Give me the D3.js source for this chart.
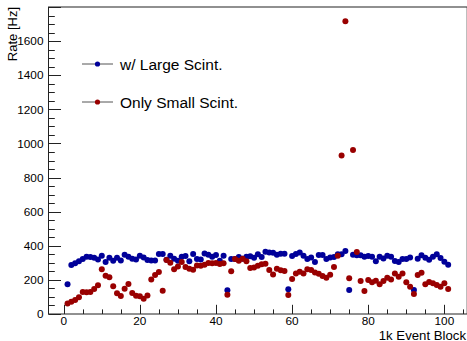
<!DOCTYPE html>
<html>
<head>
<meta charset="utf-8">
<script src="https://cdn.jsdelivr.net/npm/d3@7"></script>
<style>
  html, body { margin: 0; padding: 0; background: #fff; }
  svg { display: block; font-family: "Liberation Sans", Arial, Helvetica, sans-serif; }
</style>
</head>
<body>
<svg id="chart" width="467" height="341"></svg>
<script>
// Rate per 1k-event block (block index = position + 1)
const largeScint = [
  174, 287, 297, 309, 322, 336, 334, 330, 320, 341,
  305, 330, 312, 330, 314, 348, 336, 324, 320, 342,
  332, 316, 314, 314, 352, 352, 318, 342, 324, 312,
  336, 340, 309, 352, 322, 320, 355, 348, 336, 346,
  312, 342, 139, 322, 322, 334, 324, 336, 338, 330,
  350, 334, 365, 361, 359, 348, 353, 353, 145, 340,
  352, 361, 342, 322, 332, 305, 346, 346, 322, 332,
  334, 350, 350, 369, 141, 348, 344, 344, 336, 340,
  336, 309, 336, 326, 342, 336, 311, 305, 322, 322,
  332, 141, 324, 344, 330, 318, 336, 350, 328, 307,
  289
];
const smallScint = [
  62, 72, 82, 98, 129, 127, 129, 146, 168, 262,
  225, 215, 162, 121, 105, 148, 176, 123, 107, 104,
  90, 109, 203, 228, 246, 137, 316, 300, 262, 279,
  305, 275, 266, 260, 285, 283, 289, 299, 297, 299,
  293, 297, 113, 250, 322, 312, 324, 309, 270, 273,
  283, 291, 295, 258, 232, 266, 256, 252, 111, 205,
  238, 248, 238, 262, 258, 244, 236, 223, 213, 230,
  275, 342, 930, 1717, 209, 961, 363, 193, 135, 200,
  186, 195, 174, 193, 213, 203, 238, 219, 238, 186,
  160, 117, 228, 242, 174, 188, 180, 170, 160, 180,
  146
];
const seriesNames = ["w/ Large Scint.", "Only Small Scint."];
const seriesColors = ["#000099", "#990000"];
const xTicks = [0, 20, 40, 60, 80, 100];
const yTicks = [0, 200, 400, 600, 800, 1000, 1200, 1400, 1600];
const xTitle = "1k Event Block";
const yTitle = "Rate [Hz]";

const svg = d3.select("#chart");
const W = 467, H = 341;
const frame = { left: 48.5, right: 467.2, top: 7, bottom: 314 };

svg.append("rect").attr("width", W).attr("height", H).attr("fill", "#fff");

const x = d3.scaleLinear().domain([-4, 106]).range([frame.left, frame.right]);
const y = d3.scaleLinear().domain([0, 1800]).range([frame.bottom, frame.top]);

const axisColor = "#222";

// frame
svg.append("rect")
  .attr("x", frame.left).attr("y", frame.top)
  .attr("width", frame.right - frame.left).attr("height", frame.bottom - frame.top)
  .attr("fill", "none").attr("stroke", axisColor).attr("stroke-width", 1);

// y ticks (drawn inward), minor every 50
const yMinor = d3.range(0, 1801, 50);
const yg = svg.append("g");
yg.selectAll("line").data(yMinor).join("line")
  .attr("x1", frame.left)
  .attr("x2", d => frame.left + (d % 200 === 0 ? 12.5 : 6.3))
  .attr("y1", d => Math.round(y(d)) + 0.5)
  .attr("y2", d => Math.round(y(d)) + 0.5)
  .attr("stroke", axisColor).attr("stroke-width", 1);
yg.selectAll("text").data(yTicks).join("text")
  .attr("x", frame.left - 5)
  .attr("y", d => y(d) + 4.2)
  .attr("text-anchor", "end")
  .attr("font-size", 11.8)
  .attr("fill", "#000")
  .text(d => d);

// x ticks (drawn inward), minor every 5
const xMinor = d3.range(0, 106, 5);
const xg = svg.append("g");
xg.selectAll("line").data(xMinor).join("line")
  .attr("x1", d => Math.round(x(d)) + 0.5)
  .attr("x2", d => Math.round(x(d)) + 0.5)
  .attr("y1", frame.bottom)
  .attr("y2", d => frame.bottom - (d % 20 === 0 ? 9.2 : 4.6))
  .attr("stroke", axisColor).attr("stroke-width", 1);
xg.selectAll("text").data(xTicks).join("text")
  .attr("x", d => x(d))
  .attr("y", 325)
  .attr("text-anchor", "middle")
  .attr("font-size", 11.8)
  .attr("fill", "#000")
  .text(d => d);

// axis titles
svg.append("text")
  .attr("x", 466).attr("y", 339.5)
  .attr("text-anchor", "end")
  .attr("font-size", 13.2)
  .text(xTitle);
svg.append("text")
  .attr("transform", "translate(17,7) rotate(-90)")
  .attr("text-anchor", "end")
  .attr("font-size", 13)
  .text(yTitle);

// data markers
[largeScint, smallScint].forEach((vals, s) => {
  svg.append("g").selectAll("circle").data(vals).join("circle")
    .attr("cx", (d, i) => x(i + 1))
    .attr("cy", d => y(d))
    .attr("r", 3)
    .attr("fill", seriesColors[s]);
});

// legend
const legendRows = [64, 102];
seriesNames.forEach((name, s) => {
  const g = svg.append("g");
  g.append("line")
    .attr("x1", 82).attr("x2", 113)
    .attr("y1", legendRows[s]).attr("y2", legendRows[s])
    .attr("stroke", "#555").attr("stroke-width", 1);
  g.append("circle")
    .attr("cx", 97.5).attr("cy", legendRows[s]).attr("r", 2.6)
    .attr("fill", seriesColors[s]);
  g.append("text")
    .attr("x", 120).attr("y", legendRows[s] + 5.5)
    .attr("font-size", 15.5)
    .text(name);
});
</script>
</body>
</html>
